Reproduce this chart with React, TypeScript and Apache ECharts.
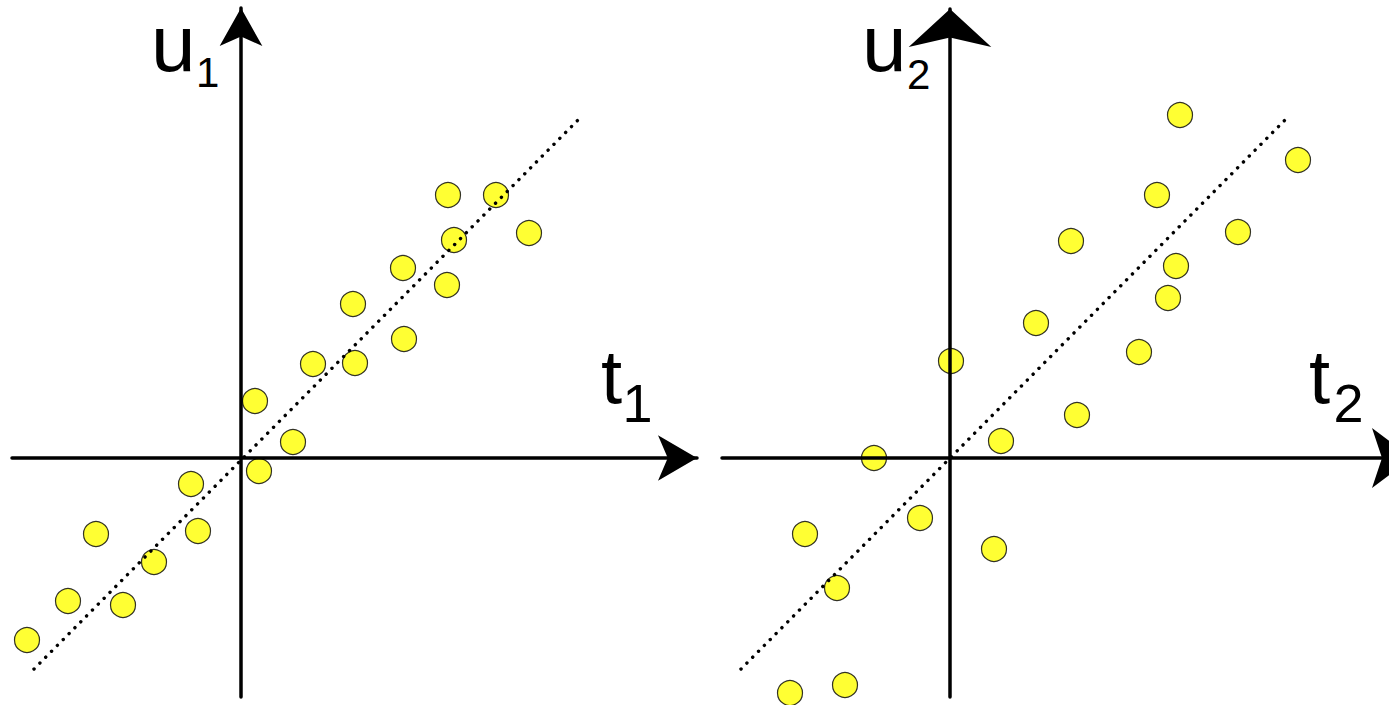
import React, { useEffect, useRef } from "react";
import * as echarts from "echarts";

// Component 1 scores (t1 on x, u1 on y)
const t1 = [-10.7, -8.65, -7.25, -5.9, -4.35, -2.5, -2.15, 0.9, 0.7, 2.6, 3.6, 5.7, 5.6, 8.15, 8.1, 10.3, 10.65, 10.35, 12.75, 14.4];
const u1 = [-9.1, -7.15, -3.8, -7.35, -5.2, -1.3, -3.65, -0.65, 2.85, 0.8, 4.7, 4.75, 7.7, 5.95, 9.5, 8.65, 10.9, 13.15, 13.15, 11.25];

// Component 2 scores (t2 on x, u2 on y)
const t2 = [-12.05, -8.0, -5.25, -7.25, -5.65, -3.8, -1.5, 2.2, 0.05, 2.55, 6.35, 4.3, 6.05, 9.45, 10.9, 11.3, 10.35, 14.4, 11.5, 17.4];
const u2 = [-8.45, -11.75, -11.35, -3.8, -6.5, 0.0, -3.0, -4.55, 4.85, 0.85, 2.15, 6.75, 10.85, 5.3, 8.0, 9.6, 13.15, 11.3, 17.15, 14.9];

// Fitted inner-relation lines: [start, end] in (t, u)
const fit1 = [[-10.35, -10.55], [16.85, 16.9]];
const fit2 = [[-10.45, -10.55], [16.75, 16.9]];

// Axis extents
const xRange1 = [-11.45, 22.8];
const yRange1 = [-11.95, 22.5];
const xRange2 = [-11.4, 23.1];
const yRange2 = [-11.95, 22.45];

const zip = (xs: number[], ys: number[]) => xs.map((x, i) => [x, ys[i]]);

const FONT = '"Liberation Sans", Arial, Helvetica, sans-serif';

function axis(gridIndex: number, range: number[], arrow: number[]) {
  return {
    type: "value",
    gridIndex,
    min: range[0],
    max: range[1],
    z: 10,
    axisLine: {
      show: true,
      onZero: true,
      symbol: ["none", "arrow"],
      symbolSize: arrow,
      lineStyle: { color: "#000", width: 3.5 },
    },
    axisTick: { show: false },
    axisLabel: { show: false },
    splitLine: { show: false },
  };
}

function label(text: string, x: number, y: number, size: number) {
  return {
    type: "text",
    x,
    y,
    z: 20,
    style: {
      text,
      fill: "#000",
      font: `${size}px ${FONT}`,
      align: "left",
      verticalAlign: "middle",
    },
  };
}

const scatterStyle = {
  color: "#ffff00",
  borderColor: "#000",
  borderWidth: 1.2,
};

const fitStyle = {
  color: "#000",
  width: 3.4,
  type: [0.1, 8.2],
  cap: "round",
};

export default function App() {
  const ref = useRef<HTMLDivElement>(null);

  useEffect(() => {
    if (!ref.current) return;
    const chart = echarts.init(ref.current, null, { renderer: "svg" });
    chart.setOption({
      animation: false,
      backgroundColor: "#fff",
      grid: [
        { left: 12, top: 8, width: 685, height: 689, outerBoundsMode: "none" },
        { left: 722, top: 9, width: 690, height: 688, outerBoundsMode: "none" },
      ],
      xAxis: [axis(0, xRange1, [34, 39]), axis(1, xRange2, [45, 40])],
      yAxis: [axis(0, yRange1, [32, 38]), axis(1, yRange2, [62, 38])],
      series: [
        {
          type: "scatter",
          xAxisIndex: 0,
          yAxisIndex: 0,
          data: zip(t1, u1),
          symbolSize: 25,
          itemStyle: scatterStyle,
          z: 2,
        },
        {
          type: "line",
          xAxisIndex: 0,
          yAxisIndex: 0,
          data: fit1,
          symbol: "none",
          lineStyle: fitStyle,
          z: 3,
        },
        {
          type: "scatter",
          xAxisIndex: 1,
          yAxisIndex: 1,
          data: zip(t2, u2),
          symbolSize: 25,
          itemStyle: scatterStyle,
          z: 2,
        },
        {
          type: "line",
          xAxisIndex: 1,
          yAxisIndex: 1,
          data: fit2,
          symbol: "none",
          lineStyle: fitStyle,
          z: 3,
        },
      ],
      graphic: [
        label("u", 151, 43, 80),
        label("1", 196, 72.4, 42),
        label("t", 601, 376.7, 76),
        label("1", 622.5, 403.3, 54),
        label("u", 862, 43, 80),
        label("2", 907, 74, 42),
        label("t", 1309, 376.7, 76),
        label("2", 1333.5, 403.3, 54),
      ],
    });
    return () => chart.dispose();
  }, []);

  return (
    <div
      style={{
        position: "absolute",
        left: 0,
        top: 0,
        width: 1389,
        height: 705,
        overflow: "hidden",
      }}
    >
      <div ref={ref} style={{ width: 1430, height: 705 }} />
    </div>
  );
}
